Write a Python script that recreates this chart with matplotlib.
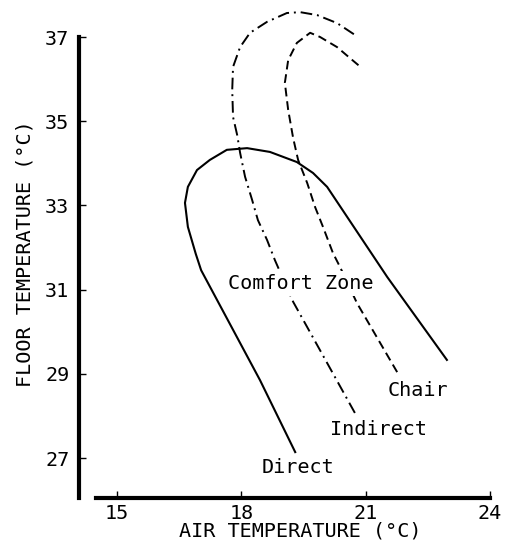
import matplotlib.pyplot as plt

# --- data ---
direct_x = [19.30, 18.45, 17.03, 16.90, 16.71, 16.64, 16.71, 16.93, 17.24, 17.65,
            18.14, 18.69, 19.34, 19.73, 20.07, 21.52, 22.96]
direct_y = [27.14, 28.85, 31.46, 31.85, 32.49, 33.06, 33.44, 33.84, 34.08, 34.32,
            34.36, 34.27, 34.03, 33.77, 33.44, 31.30, 29.33]

indirect_x = [20.74, 19.25, 18.81, 18.62, 18.40, 18.26, 18.09, 17.97, 17.90, 17.80,
              17.78, 17.80, 17.97, 18.21, 18.62, 19.10, 19.42, 19.83, 20.31, 20.74]
indirect_y = [28.07, 30.71, 31.70, 32.18, 32.65, 33.13, 33.68, 34.25, 34.67, 35.10,
              35.74, 36.29, 36.76, 37.10, 37.36, 37.57, 37.59, 37.52, 37.33, 37.05]

chair_x = [21.76, 20.79, 20.38, 20.21, 19.97, 19.78, 19.59, 19.37, 19.25, 19.13,
           19.05, 19.13, 19.34, 19.66, 19.90, 20.31, 20.62, 20.91]
chair_y = [29.04, 30.68, 31.54, 31.87, 32.49, 32.96, 33.53, 34.08, 34.60, 35.27,
           35.91, 36.45, 36.86, 37.10, 37.00, 36.76, 36.50, 36.26]

x_ticks = [15, 18, 21, 24]
y_ticks = [27, 29, 31, 33, 35, 37]

plt.rcParams['font.family'] = ['DejaVu Sans Mono']
FS = 14.5

fig = plt.figure(figsize=(5.07, 5.5), dpi=100)
ax = fig.add_axes([79 / 507, 1 - 498 / 550, 411 / 507, 461 / 550])

ax.plot(direct_x, direct_y, color='black', lw=1.5, clip_on=False, zorder=2,
        solid_joinstyle='round')
ax.plot(indirect_x, indirect_y, color='black', lw=1.4, dashes=(6, 2.5, 1, 2.5),
        clip_on=False, zorder=2)
ax.plot(chair_x, chair_y, color='black', lw=1.4, dashes=(4.5, 2.5),
        clip_on=False, zorder=2)

# curve labels
ax.text(17.68, 31.01, 'Comfort Zone', fontsize=FS, ha='left', va='baseline', zorder=3,
        bbox=dict(facecolor='white', edgecolor='none', pad=2))
ax.text(21.52, 28.47, 'Chair', fontsize=FS, ha='left', va='baseline')
ax.text(20.14, 27.55, 'Indirect', fontsize=FS, ha='left', va='baseline')
ax.text(18.50, 26.64, 'Direct', fontsize=FS, ha='left', va='baseline')

ax.set_xlim(14.083, 24)
ax.set_ylim(26.05, 37)
ax.set_xticks(x_ticks)
ax.set_yticks(y_ticks)
ax.tick_params(direction='in', length=5, width=1, labelsize=FS)
ax.tick_params(axis='y', pad=7)
ax.tick_params(axis='x', pad=4)

for s in ['top', 'right']:
    ax.spines[s].set_visible(False)
ax.spines['left'].set_linewidth(3)
ax.spines['bottom'].set_linewidth(3)
ax.spines['bottom'].set_bounds(14.49, 24)

ax.set_xlabel('AIR TEMPERATURE (°C)', fontsize=FS)
ax.xaxis.set_label_coords(0.538, -0.05)
ax.set_ylabel('FLOOR TEMPERATURE (°C)', fontsize=FS)
ax.yaxis.set_label_coords(-0.108, 0.53)

fig.savefig('out.png', dpi=100)
